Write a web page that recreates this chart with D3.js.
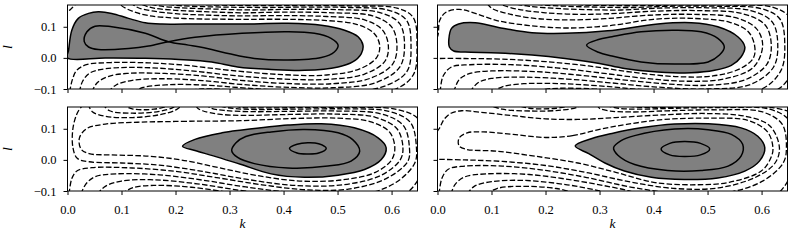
<!DOCTYPE html>
<html>
<head>
<meta charset="utf-8">
<script src="https://cdn.jsdelivr.net/npm/d3@7"></script>
<style>
body { margin: 0; background: #fff; }
.dash { fill: none; stroke: #000; stroke-width: 1.3; stroke-dasharray: 5.5, 2.3; }
.solid { fill: none; stroke: #000; stroke-width: 1.5; }
.zero { fill: #808080; stroke: #000; stroke-width: 1.5; }
.frame { fill: none; stroke: #000; stroke-width: 1; }
</style>
</head>
<body>
<svg id="chart" width="793" height="244"></svg>
<script>
// axis ticks
var kTicks = [0.0, 0.1, 0.2, 0.3, 0.4, 0.5, 0.6];
var lTicks = [-0.1, 0.0, 0.1];
var kDomain = [0, 0.648];
var lDomain = [-0.1, 0.17];

// contour lines, points are [k, l]
// panel a (top left)
var aZero = [[0,0],[0.002,0.025],[0.008,0.089],[0.02,0.127],[0.039,0.143],[0.057,0.148],[0.082,0.143],[0.113,0.127],[0.144,0.113],[0.175,0.109],[0.245,0.109],[0.323,0.109],[0.408,0.111],[0.47,0.105],[0.513,0.089],[0.538,0.068],[0.547,0.041],[0.544,0.014],[0.528,-0.013],[0.501,-0.029],[0.439,-0.04],[0.377,-0.037],[0.315,-0.029],[0.267,-0.013],[0.206,-0.005],[0.144,-0.001],[0.07,0]];
var aSolid = [
	[[0.187,0.052],[0.144,0.079],[0.082,0.1],[0.051,0.102],[0.036,0.084],[0.031,0.052],[0.039,0.035],[0.057,0.027],[0.113,0.03],[0.15,0.038],[0.187,0.052],[0.236,0.066],[0.323,0.079],[0.408,0.084],[0.457,0.079],[0.488,0.063],[0.501,0.041],[0.494,0.019],[0.47,0.001],[0.408,-0.007],[0.346,-0.002],[0.3,0.013],[0.267,0.027],[0.224,0.041]]
];
var aDashed = [
	[[-0.01,0.14],[0.005,0.155],[0.016,0.175]],
	[[0.004,-0.11],[0.009,-0.07],[0.017,-0.04],[0.035,-0.022],[0.08,-0.015],[0.15,-0.016],[0.22,-0.024],[0.3,-0.04],[0.4,-0.054],[0.48,-0.055],[0.54,-0.036],[0.572,0.0],[0.578,0.04],[0.567,0.08],[0.535,0.108],[0.48,0.12],[0.4,0.124],[0.32,0.124],[0.25,0.125],[0.2,0.128],[0.15,0.136],[0.12,0.15],[0.1,0.168],[0.095,0.18]],
	[[0.022,-0.11],[0.028,-0.075],[0.042,-0.048],[0.07,-0.035],[0.14,-0.031],[0.22,-0.04],[0.31,-0.057],[0.4,-0.068],[0.48,-0.069],[0.55,-0.052],[0.588,-0.01],[0.594,0.04],[0.583,0.09],[0.55,0.122],[0.48,0.133],[0.4,0.136],[0.32,0.135],[0.25,0.138],[0.2,0.142],[0.16,0.15],[0.13,0.162],[0.115,0.18]],
	[[0.045,-0.11],[0.055,-0.08],[0.075,-0.06],[0.11,-0.05],[0.18,-0.05],[0.25,-0.058],[0.32,-0.072],[0.4,-0.082],[0.49,-0.083],[0.56,-0.066],[0.602,-0.02],[0.61,0.04],[0.6,0.1],[0.565,0.135],[0.49,0.145],[0.4,0.147],[0.32,0.145],[0.25,0.149],[0.2,0.153],[0.16,0.16],[0.14,0.17],[0.13,0.18]],
	[[0.075,-0.11],[0.09,-0.087],[0.12,-0.072],[0.18,-0.067],[0.25,-0.073],[0.32,-0.085],[0.4,-0.094],[0.49,-0.096],[0.57,-0.08],[0.615,-0.03],[0.624,0.04],[0.615,0.11],[0.58,0.145],[0.5,0.155],[0.41,0.156],[0.34,0.154],[0.27,0.157],[0.21,0.161],[0.17,0.167],[0.15,0.175],[0.145,0.18]],
	[[0.12,-0.11],[0.14,-0.095],[0.19,-0.086],[0.26,-0.088],[0.33,-0.097],[0.42,-0.106],[0.5,-0.108],[0.58,-0.095],[0.628,-0.045],[0.636,0.04],[0.628,0.12],[0.595,0.153],[0.52,0.162],[0.43,0.163],[0.37,0.162],[0.3,0.163],[0.23,0.166],[0.19,0.171],[0.165,0.18]],
	[[0.2,-0.11],[0.25,-0.1],[0.32,-0.104],[0.45,-0.115],[0.6,-0.105],[0.64,-0.055],[0.647,0.04],[0.64,0.13],[0.61,0.16],[0.53,0.167],[0.44,0.168],[0.35,0.168],[0.27,0.17],[0.22,0.174],[0.2,0.18]]
];

// panel b (top right)
var bZero = [[0.022,0.035],[0.021,0.06],[0.026,0.095],[0.039,0.109],[0.07,0.113],[0.113,0.098],[0.175,0.081],[0.236,0.079],[0.315,0.087],[0.408,0.109],[0.47,0.113],[0.519,0.1],[0.556,0.068],[0.569,0.035],[0.562,0.003],[0.544,-0.024],[0.513,-0.04],[0.47,-0.048],[0.408,-0.045],[0.346,-0.034],[0.3,-0.018],[0.236,-0.002],[0.175,0.009],[0.113,0.016],[0.051,0.019],[0.03,0.022]];
var bSolid = [
	[[0.276,0.041],[0.298,0.059],[0.323,0.068],[0.377,0.084],[0.439,0.089],[0.488,0.084],[0.519,0.063],[0.531,0.035],[0.522,0.009],[0.501,-0.013],[0.439,-0.02],[0.377,-0.013],[0.323,0.006],[0.298,0.018]]
];
var bDashed = [
	[[-0.01,-0.002],[0.05,-0.002],[0.12,-0.004],[0.2,-0.012],[0.28,-0.026],[0.36,-0.046],[0.44,-0.06],[0.51,-0.058],[0.56,-0.035],[0.585,0.0],[0.587,0.04],[0.575,0.085],[0.54,0.115],[0.47,0.127],[0.4,0.124],[0.32,0.104],[0.24,0.096],[0.17,0.104],[0.11,0.12],[0.07,0.143],[0.04,0.156],[0.015,0.146],[0.004,0.12],[0.0,0.068],[-0.01,0.05]],
	[[0.005,-0.11],[0.01,-0.06],[0.025,-0.03],[0.06,-0.022],[0.14,-0.022],[0.22,-0.032],[0.3,-0.048],[0.38,-0.065],[0.46,-0.075],[0.53,-0.068],[0.585,-0.03],[0.602,0.04],[0.59,0.095],[0.55,0.13],[0.47,0.14],[0.39,0.137],[0.31,0.126],[0.24,0.122],[0.18,0.127],[0.13,0.142],[0.1,0.16],[0.09,0.18]],
	[[0.03,-0.11],[0.04,-0.07],[0.06,-0.05],[0.1,-0.042],[0.18,-0.044],[0.26,-0.055],[0.34,-0.07],[0.42,-0.083],[0.5,-0.088],[0.57,-0.07],[0.61,-0.02],[0.618,0.04],[0.607,0.105],[0.565,0.142],[0.48,0.152],[0.4,0.15],[0.32,0.142],[0.26,0.14],[0.2,0.145],[0.15,0.156],[0.12,0.17],[0.11,0.18]],
	[[0.06,-0.11],[0.075,-0.08],[0.1,-0.066],[0.16,-0.062],[0.24,-0.068],[0.32,-0.08],[0.4,-0.093],[0.5,-0.1],[0.58,-0.085],[0.622,-0.03],[0.63,0.04],[0.62,0.115],[0.58,0.152],[0.5,0.161],[0.41,0.16],[0.34,0.154],[0.28,0.155],[0.22,0.159],[0.17,0.166],[0.14,0.175],[0.13,0.18]],
	[[0.1,-0.11],[0.12,-0.093],[0.16,-0.083],[0.23,-0.083],[0.3,-0.09],[0.38,-0.102],[0.5,-0.112],[0.6,-0.1],[0.636,-0.04],[0.643,0.04],[0.634,0.125],[0.6,0.158],[0.52,0.166],[0.43,0.166],[0.36,0.162],[0.3,0.163],[0.24,0.166],[0.19,0.171],[0.16,0.18]],
	[[0.17,-0.11],[0.21,-0.099],[0.28,-0.099],[0.36,-0.11],[0.62,-0.11],[0.655,-0.05],[0.66,0.04],[0.652,0.13],[0.62,0.163],[0.54,0.17],[0.45,0.17],[0.39,0.168],[0.32,0.168],[0.26,0.171],[0.22,0.18]]
];

// panel c (bottom left)
var cZero = [[0.213,0.044],[0.236,0.066],[0.286,0.087],[0.323,0.096],[0.408,0.112],[0.47,0.116],[0.531,0.103],[0.575,0.071],[0.59,0.039],[0.581,0.001],[0.55,-0.031],[0.501,-0.049],[0.439,-0.056],[0.377,-0.045],[0.32,-0.014],[0.27,0.013],[0.236,0.03]];
var cSolid = [
	[[0.304,0.03],[0.312,0.055],[0.33,0.075],[0.377,0.09],[0.439,0.098],[0.501,0.087],[0.528,0.065],[0.541,0.028],[0.525,-0.004],[0.482,-0.02],[0.408,-0.026],[0.346,-0.012],[0.315,0.008]],
	[[0.411,0.037],[0.425,0.05],[0.445,0.055],[0.465,0.052],[0.479,0.037],[0.465,0.022],[0.445,0.019],[0.425,0.022]]
];
var cLoops = [
	[[0.32,0.126],[0.22,0.124],[0.13,0.121],[0.07,0.115],[0.035,0.1],[0.022,0.07],[0.025,0.035],[0.04,0.02],[0.08,0.016],[0.15,0.012],[0.21,0.0],[0.28,-0.025],[0.35,-0.05],[0.43,-0.068],[0.51,-0.064],[0.57,-0.04],[0.6,0.0],[0.606,0.04],[0.596,0.09],[0.56,0.123],[0.5,0.134],[0.42,0.133]]
];
var cDashed = [
	[[0.03,0.18],[0.018,0.15],[0.01,0.1],[0.01,0.04],[0.018,0.005],[0.04,-0.006],[0.1,-0.01],[0.17,-0.017],[0.25,-0.037],[0.33,-0.062],[0.42,-0.082],[0.51,-0.08],[0.58,-0.05],[0.616,0.0],[0.621,0.04],[0.61,0.1],[0.57,0.137],[0.5,0.147],[0.41,0.146],[0.33,0.143],[0.28,0.147],[0.25,0.158],[0.24,0.168],[0.238,0.18]],
	[[0.003,-0.11],[0.008,-0.06],[0.018,-0.035],[0.045,-0.025],[0.12,-0.026],[0.2,-0.037],[0.28,-0.058],[0.36,-0.08],[0.44,-0.096],[0.52,-0.094],[0.59,-0.06],[0.63,-0.005],[0.633,0.04],[0.622,0.11],[0.58,0.148],[0.5,0.157],[0.41,0.156],[0.34,0.155],[0.29,0.159],[0.265,0.167],[0.255,0.18]],
	[[0.025,-0.11],[0.033,-0.08],[0.05,-0.055],[0.09,-0.045],[0.17,-0.048],[0.25,-0.065],[0.33,-0.087],[0.42,-0.105],[0.55,-0.11],[0.61,-0.07],[0.643,-0.01],[0.646,0.04],[0.635,0.12],[0.595,0.156],[0.51,0.164],[0.42,0.163],[0.35,0.162],[0.31,0.165],[0.285,0.172],[0.275,0.18]],
	[[0.055,-0.11],[0.07,-0.085],[0.1,-0.068],[0.16,-0.064],[0.24,-0.077],[0.32,-0.098],[0.4,-0.115],[0.62,-0.115],[0.66,-0.02],[0.66,0.04],[0.65,0.13],[0.61,0.162],[0.52,0.169],[0.43,0.168],[0.36,0.167],[0.32,0.169],[0.3,0.18]],
	[[0.1,-0.11],[0.12,-0.09],[0.16,-0.082],[0.23,-0.088],[0.3,-0.105],[0.35,-0.12]],
	[[0.038,0.18],[0.046,0.155],[0.07,0.14],[0.12,0.136],[0.17,0.145],[0.2,0.16],[0.215,0.18]],
	[[0.065,0.18],[0.078,0.158],[0.12,0.15],[0.17,0.156],[0.195,0.168],[0.203,0.18]],
	[[0.1,0.18],[0.12,0.164],[0.16,0.163],[0.183,0.172],[0.19,0.18]]
];

// panel d (bottom right)
var dZero = [[0.255,0.045],[0.286,0.069],[0.323,0.085],[0.377,0.103],[0.439,0.115],[0.501,0.116],[0.562,0.103],[0.593,0.076],[0.606,0.039],[0.596,-0.004],[0.569,-0.036],[0.519,-0.058],[0.457,-0.063],[0.396,-0.056],[0.346,-0.036],[0.31,-0.01],[0.28,0.02]];
var dSolid = [
	[[0.326,0.039],[0.34,0.062],[0.365,0.078],[0.439,0.099],[0.501,0.097],[0.544,0.082],[0.565,0.05],[0.562,0.012],[0.538,-0.02],[0.488,-0.034],[0.426,-0.034],[0.365,-0.015],[0.334,0.015]],
	[[0.414,0.035],[0.43,0.053],[0.457,0.059],[0.487,0.053],[0.504,0.035],[0.487,0.016],[0.457,0.011],[0.43,0.016]]
];
var dLoops = [
	[[0.3,0.098],[0.25,0.078],[0.2,0.072],[0.14,0.082],[0.085,0.09],[0.055,0.087],[0.04,0.07],[0.04,0.045],[0.053,0.034],[0.11,0.028],[0.18,0.012],[0.26,-0.01],[0.33,-0.04],[0.4,-0.072],[0.47,-0.08],[0.54,-0.072],[0.6,-0.035],[0.618,0.01],[0.621,0.04],[0.611,0.09],[0.575,0.127],[0.5,0.134],[0.42,0.13],[0.35,0.114]]
];
var dDashed = [
	[[-0.01,0.07],[0.003,0.1],[0.012,0.13],[0.025,0.15],[0.045,0.158],[0.08,0.153],[0.14,0.142],[0.2,0.132],[0.26,0.13],[0.33,0.136],[0.42,0.145],[0.5,0.149],[0.57,0.14],[0.615,0.11],[0.633,0.04],[0.625,-0.01],[0.59,-0.055],[0.52,-0.09],[0.44,-0.092],[0.36,-0.072],[0.28,-0.042],[0.2,-0.018],[0.12,-0.005],[0.05,0.0],[-0.01,0.002]],
	[[0.003,-0.11],[0.008,-0.06],[0.02,-0.03],[0.05,-0.02],[0.12,-0.02],[0.2,-0.034],[0.28,-0.058],[0.36,-0.088],[0.44,-0.107],[0.53,-0.107],[0.6,-0.07],[0.64,-0.01],[0.646,0.04],[0.638,0.115],[0.6,0.155],[0.52,0.161],[0.43,0.158],[0.36,0.154],[0.32,0.157],[0.3,0.166],[0.295,0.18]],
	[[0.025,-0.11],[0.032,-0.08],[0.05,-0.055],[0.09,-0.045],[0.17,-0.047],[0.25,-0.065],[0.33,-0.09],[0.4,-0.115],[0.62,-0.12],[0.66,-0.02],[0.66,0.04],[0.652,0.125],[0.615,0.163],[0.53,0.168],[0.44,0.166],[0.37,0.163],[0.335,0.166],[0.315,0.174],[0.31,0.18]],
	[[0.055,-0.11],[0.068,-0.085],[0.1,-0.07],[0.16,-0.066],[0.24,-0.08],[0.3,-0.1],[0.34,-0.12]],
	[[0.68,0.14],[0.62,0.168],[0.52,0.171],[0.42,0.169],[0.36,0.171],[0.34,0.18]],
	[[0.09,-0.11],[0.11,-0.092],[0.15,-0.085],[0.22,-0.092],[0.26,-0.11]],
	[[0.09,0.18],[0.12,0.163],[0.18,0.157],[0.23,0.16],[0.26,0.17],[0.265,0.18]],
	[[0.14,0.18],[0.17,0.166],[0.22,0.166],[0.245,0.175],[0.25,0.18]]
];

var panels = [
	{ id: "a", col: 0, row: 0, zero: aZero, solid: aSolid, loops: [], dashed: aDashed },
	{ id: "b", col: 1, row: 0, zero: bZero, solid: bSolid, loops: [], dashed: bDashed },
	{ id: "c", col: 0, row: 1, zero: cZero, solid: cSolid, loops: cLoops, dashed: cDashed },
	{ id: "d", col: 1, row: 1, zero: dZero, solid: dSolid, loops: dLoops, dashed: dDashed }
];

var panelW = 350, panelH = 84;
var panelX = [67.5, 437.5], panelY = [5, 107];
var serif = "'Liberation Serif', 'Times New Roman', Times, 'DejaVu Serif', 'Noto Serif', serif";

var svg = d3.select("#chart");

var x = d3.scaleLinear().domain(kDomain).range([0, panelW]);
var y = d3.scaleLinear().domain(lDomain).range([panelH, 0]);

var openLine = d3.line()
	.x(function(d) { return x(d[0]); })
	.y(function(d) { return y(d[1]); })
	.curve(d3.curveCatmullRom.alpha(0.5));

var closedLine = d3.line()
	.x(function(d) { return x(d[0]); })
	.y(function(d) { return y(d[1]); })
	.curve(d3.curveCatmullRomClosed.alpha(0.5));

var defs = svg.append("defs");

panels.forEach(function(p) {
	defs.append("clipPath")
		.attr("id", "clip-" + p.id)
	  .append("rect")
		.attr("width", panelW)
		.attr("height", panelH);

	var g = svg.append("g")
		.attr("transform", "translate(" + panelX[p.col] + "," + panelY[p.row] + ")");

	var plot = g.append("g")
		.attr("clip-path", "url(#clip-" + p.id + ")");

	// negative levels
	plot.selectAll(".dash")
		.data(p.dashed)
	  .enter().append("path")
		.attr("class", "dash")
		.attr("d", openLine);

	plot.selectAll(".loop")
		.data(p.loops)
	  .enter().append("path")
		.attr("class", "dash loop")
		.attr("d", closedLine);

	// unstable region
	plot.append("path")
		.datum(p.zero)
		.attr("class", "zero")
		.attr("d", closedLine);

	plot.selectAll(".solid")
		.data(p.solid)
	  .enter().append("path")
		.attr("class", "solid")
		.attr("d", closedLine);

	// axes
	var xAxis = d3.axisBottom(x)
		.tickValues(kTicks)
		.tickSize(4)
		.tickPadding(10)
		.tickFormat(p.row == 1 ? d3.format(".1f") : "");
	var yAxis = d3.axisLeft(y)
		.tickValues(lTicks)
		.tickSize(4)
		.tickPadding(7)
		.tickFormat(p.col == 0 ? function(d) { return d3.format(".1f")(d).replace("-", "\u2212"); } : "");

	var gx = g.append("g")
		.attr("transform", "translate(0," + panelH + ")")
		.call(xAxis);
	var gy = g.append("g")
		.call(yAxis);

	[gx, gy].forEach(function(a) {
		a.attr("font-family", null).attr("font-size", null);
		a.select(".domain").remove();
		a.selectAll("line").attr("stroke", "#000").attr("stroke-width", 1);
		a.selectAll("text")
			.style("font-family", serif)
			.style("font-size", "12.5px")
			.attr("fill", "#000");
	});

	g.append("rect")
		.attr("class", "frame")
		.attr("width", panelW)
		.attr("height", panelH);

	if (p.col == 0) {
		g.append("text")
			.attr("transform", "translate(-55.5," + (panelH / 2) + ") rotate(-90)")
			.attr("text-anchor", "middle")
			.style("font-family", serif)
			.style("font-style", "italic")
			.style("font-size", "13.5px")
			.text("l");
	}
	if (p.row == 1) {
		g.append("text")
			.attr("x", panelW / 2)
			.attr("y", panelH + 37)
			.attr("text-anchor", "middle")
			.style("font-family", serif)
			.style("font-style", "italic")
			.style("font-size", "13.5px")
			.text("k");
	}
});
</script>
</body>
</html>
